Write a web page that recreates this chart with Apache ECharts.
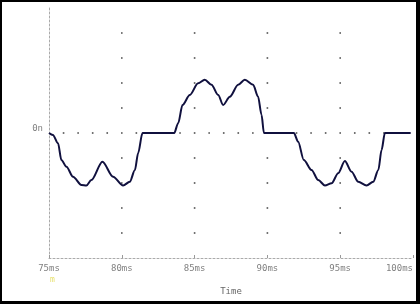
<!DOCTYPE html>
<html><head><meta charset="utf-8">
<script src="https://cdn.jsdelivr.net/npm/echarts@6/dist/echarts.min.js"></script>
<style>html,body{margin:0;padding:0;background:#fff}#c{width:420px;height:304px}</style>
</head><body><div id="c"></div>
<script>
// Time (ms) and signal values
const timeMs = [75, 75.27, 75.62, 75.85, 76.2, 76.65, 77.23, 77.57, 77.91, 78.67, 79.4, 80.09, 80.55, 80.9, 81.12, 81.42,
  83.6, 83.87, 84.17, 84.67, 85.24, 85.7, 86.16, 86.62, 86.96, 87.42, 87.99, 88.45, 89.02, 89.36, 89.6, 89.76,
  91.82, 92.11, 92.5, 93.03, 93.49, 93.95, 94.41, 94.86, 95.32, 95.78, 96.24, 96.81, 97.27, 97.62, 97.84, 98.07, 99.84];
const signal = [0, -0.08, -0.41, -1.08, -1.35, -1.75, -2.08, -2.1, -1.88, -1.15, -1.75, -2.1, -1.95, -1.48, -0.81, 0,
  0, 0.39, 1.12, 1.52, 1.99, 2.13, 1.93, 1.52, 1.12, 1.45, 1.93, 2.13, 1.93, 1.45, 0.72, 0,
  0, -0.35, -1.08, -1.48, -1.88, -2.1, -2.01, -1.61, -1.12, -1.55, -1.95, -2.1, -1.95, -1.48, -0.68, 0, 0];
// Dotted grid positions
const gridCols = [80, 85, 90, 95];
const gridRows = [-4, -3, -2, -1, 1, 2, 3, 4];
const zeroRowDots = [76,77,78,79,80,81,82,83,84,85,86,87,88,89,90,91,92,93,94,95,96,97,98,99];
const xTickLabels = ['75ms', '80ms', '85ms', '90ms', '95ms', '100ms'];

const lineData = timeMs.map((t, i) => [t, signal[i]]);
const dots = [];
gridCols.forEach(x => gridRows.forEach(y => dots.push([x, y])));
zeroRowDots.forEach(x => dots.push([x, 0]));

const chart = echarts.init(document.getElementById('c'), null, {renderer: 'canvas'});
chart.setOption({
  animation: false,
  backgroundColor: '#fff',
  grid: {left: 49, right: 7, top: 8, bottom: 46},
  xAxis: {
    type: 'value', min: 75, max: 100, interval: 5,
    name: 'Time', nameLocation: 'middle', nameGap: 29,
    nameTextStyle: {color: '#666', fontFamily: 'DejaVu Sans Mono', fontSize: 9},
    axisLine: {onZero: false, lineStyle: {color: '#aaa', type: [2, 2], width: 1}},
    axisTick: {show: true, inside: true, length: 3, lineStyle: {color: '#999'}},
    axisLabel: {color: '#808080', fontFamily: 'DejaVu Sans Mono', fontSize: 9, margin: 6,
      alignMaxLabel: 'right',
      formatter: v => xTickLabels[Math.round((v - 75) / 5)]},
    splitLine: {show: false}
  },
  yAxis: {
    type: 'value', min: -5, max: 5, interval: 1,
    axisLine: {show: true, onZero: false, lineStyle: {color: '#aaa', type: [2, 2], width: 1}},
    axisTick: {show: false},
    axisLabel: {show: true, color: '#808080', fontFamily: 'DejaVu Sans Mono', fontSize: 9, margin: 6,
      verticalAlign: 'bottom', formatter: v => v === 0 ? '0n' : ''},
    splitLine: {show: false}
  },
  series: [
    {type: 'scatter', data: dots, symbol: 'rect', symbolSize: 1.6, itemStyle: {color: '#222'}, silent: true, z: 1},
    {type: 'line', data: lineData, showSymbol: false, smooth: 0.3, smoothMonotone: 'x',
      lineStyle: {color: '#10103e', width: 2}, z: 3}
  ],
  graphic: [
    {type: 'text', left: 50, top: 276, style: {text: 'm', fill: '#e6df6a', font: '8px DejaVu Sans Mono'}},
    {type: 'rect', shape: {x: 0, y: 0, width: 420, height: 2}, style: {fill: '#000'}},
    {type: 'rect', shape: {x: 0, y: 0, width: 2, height: 304}, style: {fill: '#000'}},
    {type: 'rect', shape: {x: 416, y: 0, width: 4, height: 304}, style: {fill: '#000'}},
    {type: 'rect', shape: {x: 0, y: 301, width: 420, height: 3}, style: {fill: '#000'}}
  ]
});
</script></body></html>
